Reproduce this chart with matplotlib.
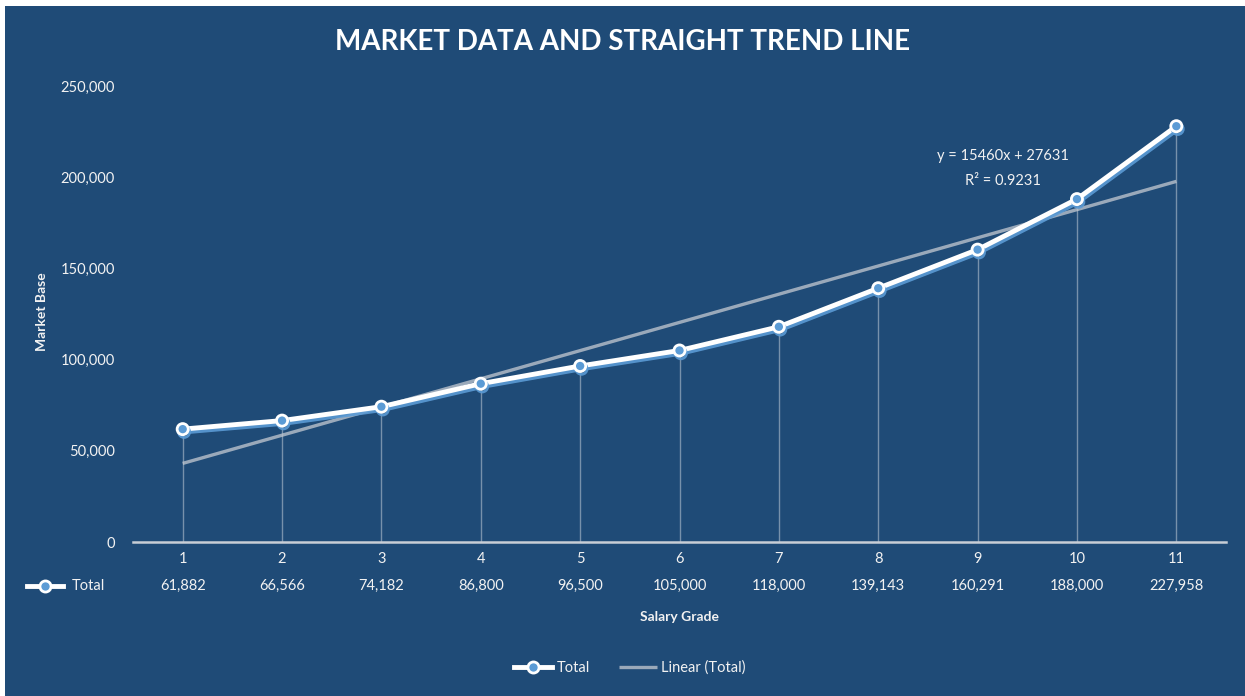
import matplotlib
matplotlib.use('Agg')
import numpy as np
import matplotlib.pyplot as plt
import matplotlib.patheffects as pe
from matplotlib.patches import Rectangle
from matplotlib.lines import Line2D
from matplotlib.ticker import FuncFormatter

plt.rcParams['font.family'] = ['Lato', 'DejaVu Sans']

grades = [1, 2, 3, 4, 5, 6, 7, 8, 9, 10, 11]
total = [61882, 66566, 74182, 86800, 96500, 105000, 118000, 139143, 160291, 188000, 227958]
eq_text = 'y = 15460x + 27631\nR² = 0.9231'

bg = '#1F4B77'
fg = '#F2F2F2'

fig = plt.figure(figsize=(12.45, 6.96), dpi=100, facecolor='white')
fig.patches.append(Rectangle((5 / 1245, 0), 1, 1 - 6 / 696, transform=fig.transFigure,
                             facecolor=bg, edgecolor='none', zorder=-5))

ax = fig.add_axes([133 / 1245, (696 - 542) / 696, 1093 / 1245, 456 / 696])
ax.set_facecolor('none')
ax.set_zorder(2)
ax.set_xlim(0.5, 11.5)
ax.set_ylim(0, 250000)

x = np.array(grades)
y = np.array(total)

# drop lines
ax.vlines(x, 0, y, color='#D0D8E0', lw=1.0, alpha=0.5, zorder=2)

# linear trend line
slope, icpt = np.polyfit(x, y, 1)
tl, = ax.plot(x, slope * x + icpt, color='#C4CAD2', lw=2.4, alpha=0.75, zorder=3,
              solid_capstyle='butt', label='Linear (Total)')

# series
ln, = ax.plot(x, y, color='white', lw=3.5, marker='o', ms=8, mfc='#5B9BD5', mec='white',
              mew=2.0, zorder=4, label='Total',
              path_effects=[pe.SimpleLineShadow(offset=(1, -2), shadow_color='#5B9BD5', alpha=0.9),
                            pe.Normal()])

ax.text(9.26, 204500, eq_text, ha='center', va='center', color=fg, fontsize=10.5, linespacing=2.0)

for s in ['top', 'right', 'left']:
    ax.spines[s].set_visible(False)
ax.spines['bottom'].set_color('#C8CED6')
ax.spines['bottom'].set_linewidth(1.8)

ax.set_yticks([0, 50000, 100000, 150000, 200000, 250000])
ax.yaxis.set_major_formatter(FuncFormatter(lambda v, p: f'{int(v):,}'))
ax.tick_params(axis='y', length=0, pad=13, labelcolor=fg, labelsize=10.5)
ax.set_xticks(grades)
ax.tick_params(axis='x', length=0, pad=7, labelcolor=fg, labelsize=10.5)

# data table row
for gx, v in zip(grades, total):
    ax.text(gx, -24000, f'{v:,}', ha='center', va='center', color=fg, fontsize=10.5)
fig.text(72 / 1245, 1 - 586 / 696, 'Total', ha='left', va='center', color=fg, fontsize=10.5)
fig.lines.append(Line2D([27 / 1245, 63 / 1245], [1 - 586 / 696] * 2, transform=fig.transFigure,
                        color='white', lw=3.5))
fig.lines.append(Line2D([45 / 1245], [1 - 586 / 696], transform=fig.transFigure,
                        marker='o', ms=8, mfc='#5B9BD5', mec='white', mew=2.0))

fig.text(0.5, 1 - 42 / 696, 'MARKET DATA AND STRAIGHT TREND LINE', ha='center', va='center',
         color='white', fontsize=20, fontweight='bold')
fig.text(42 / 1245, 1 - 312 / 696, 'Market Base', rotation=90, ha='center', va='center',
         color=fg, fontsize=10, fontweight='bold')
fig.text(679 / 1245, 1 - 617 / 696, 'Salary Grade', ha='center', va='center',
         color=fg, fontsize=10, fontweight='bold')

leg = fig.legend(handles=[ln, tl], loc='center', bbox_to_anchor=(630 / 1245, 1 - 668 / 696), ncol=2,
                 frameon=False, fontsize=10.5, labelcolor=fg, handlelength=2.6, columnspacing=2.0,
                 handletextpad=0.3)
for h in leg.legend_handles:
    h.set_path_effects([])

fig.savefig('out.png', dpi=100, facecolor=fig.get_facecolor())
